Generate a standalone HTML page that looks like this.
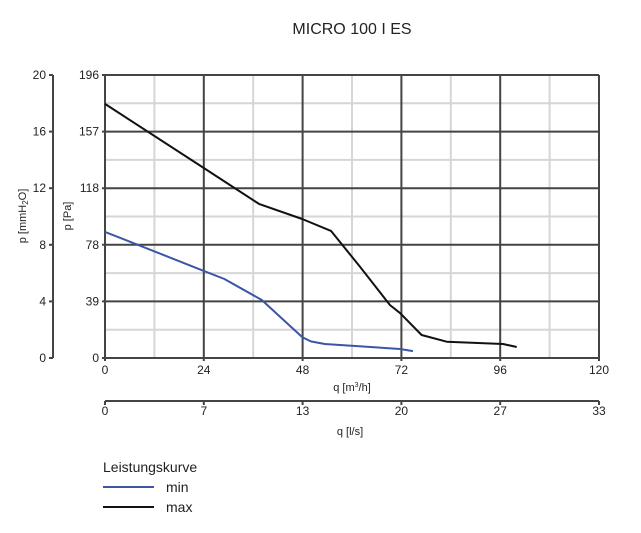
<!DOCTYPE html>
<html><head><meta charset="utf-8"><style>
body{margin:0;background:#fff;}
svg text{font-family:"Liberation Sans",sans-serif;fill:#222;}
</style></head><body>
<svg width="641" height="528" viewBox="0 0 641 528" xmlns="http://www.w3.org/2000/svg">
<text x="352" y="34" font-size="16" text-anchor="middle" fill="#333">MICRO 100 I ES</text>
<g id="grid"></g>
<g id="series"></g>
<g id="axes"></g>
<text transform="translate(71,216) rotate(-90)" font-size="11" text-anchor="middle">p [Pa]</text>
<text transform="translate(26,216) rotate(-90)" font-size="11" text-anchor="middle">p [mmH<tspan font-size="8" dy="2">2</tspan><tspan dy="-2">O]</tspan></text>
<text x="352" y="391" font-size="11" text-anchor="middle">q [m<tspan font-size="7" dy="-4">3</tspan><tspan dy="4">/h]</tspan></text>
<text x="350" y="435" font-size="11" text-anchor="middle">q [l/s]</text>
<g>
<text x="103" y="472" font-size="14" fill="#333">Leistungskurve</text>
<line x1="103" y1="487" x2="154" y2="487" stroke="#3a56a5" stroke-width="2"/>
<text x="166" y="492" font-size="14" fill="#333">min</text>
<line x1="103" y1="507" x2="154" y2="507" stroke="#111" stroke-width="2"/>
<text x="166" y="512" font-size="14" fill="#333">max</text>
</g>
</svg>
<script>
const xTicks=[0,24,48,72,96,120];
const yTicks=[0,39,78,118,157,196];
const mmTicks=[0,4,8,12,16,20];
const lsTicks=[0,7,13,20,27,33];
const maxQ=[0,24,37.4,47.9,54.9,62,69.2,71.7,76.9,83,96.7,100];
const maxP=[176,131.6,106.7,96.3,88,63,36.7,31,15.9,11.3,9.7,7.6];
const minQ=[0,24,29,38.1,47.9,50,53.4,71.7,74.8];
const minP=[87.3,60.3,54.7,40.2,14.5,11.5,9.7,6.2,4.8];
const X0=105,X1=599,Y0=358,Y1=75;
const xs=q=>X0+q/120*(X1-X0);
const ys=p=>Y0-p/196*(Y0-Y1);
const NS='http://www.w3.org/2000/svg';
function mk(t,a,parent){const e=document.createElementNS(NS,t);for(const k in a)e.setAttribute(k,a[k]);document.getElementById(parent).appendChild(e);return e;}
for(let i=0;i<5;i++){
 const x=(xs(xTicks[i])+xs(xTicks[i+1]))/2;
 const l=mk('line',{x1:x,y1:Y1,x2:x,y2:Y0,stroke:'#d6d6d6','stroke-width':2},'grid');
 
 
 const y=(Y0-(Y0-Y1)*(i+0.5)/5);
 const h=mk('line',{x1:X0,y1:y,x2:X1,y2:y,stroke:'#d6d6d6','stroke-width':2},'grid');
 
 
}
xTicks.forEach((t,i)=>{
 const x=xs(t);
 const l=mk('line',{x1:x,y1:Y1,x2:x,y2:Y0+3,stroke:'#444','stroke-width':2},'grid');
 
 
 const tx=mk('text',{x:x,y:Y0+16,'font-size':12,'text-anchor':'middle'},'axes');
 tx.textContent=t;
 
 
});
yTicks.forEach((t,i)=>{
 const y=Y0-(Y0-Y1)*i/5;
 const l=mk('line',{x1:X0-3,y1:y,x2:X1,y2:y,stroke:'#444','stroke-width':2},'grid');
 
 
 const tx=mk('text',{x:X0-6,y:y+4,'font-size':12,'text-anchor':'end'},'axes');
 tx.textContent=t;
 
 
});
const la=mk('line',{x1:53,y1:Y1,x2:53,y2:Y0,stroke:'#444','stroke-width':2},'axes');


mmTicks.forEach((t,i)=>{
 const y=Y0-(Y0-Y1)*t/20;
 const l=mk('line',{x1:49,y1:y,x2:53,y2:y,stroke:'#444','stroke-width':2},'axes');
 
 
 const tx=mk('text',{x:46,y:y+4,'font-size':12,'text-anchor':'end'},'axes');
 tx.textContent=t;
 
 
});
const ba=mk('line',{x1:X0,y1:401,x2:X1,y2:401,stroke:'#444','stroke-width':2},'axes');


lsTicks.forEach((t,i)=>{
 const x=X0+(X1-X0)*i/5;
 const l=mk('line',{x1:x,y1:401,x2:x,y2:405,stroke:'#444','stroke-width':2},'axes');
 
 
 const tx=mk('text',{x:x,y:415,'font-size':12,'text-anchor':'middle'},'axes');
 tx.textContent=t;
 
 
});
function series(q,p,color,name){
 const d=q.map((v,i)=>(i?'L':'M')+xs(v).toFixed(1)+','+ys(p[i]).toFixed(1)).join(' ');
 const e=mk('path',{d:d,fill:'none',stroke:color,'stroke-width':2,'stroke-linejoin':'round'},'series');
 
 
}
series(minQ,minP,'#3a56a5','curve-min');
series(maxQ,maxP,'#111','curve-max');
</script>
</body></html>
